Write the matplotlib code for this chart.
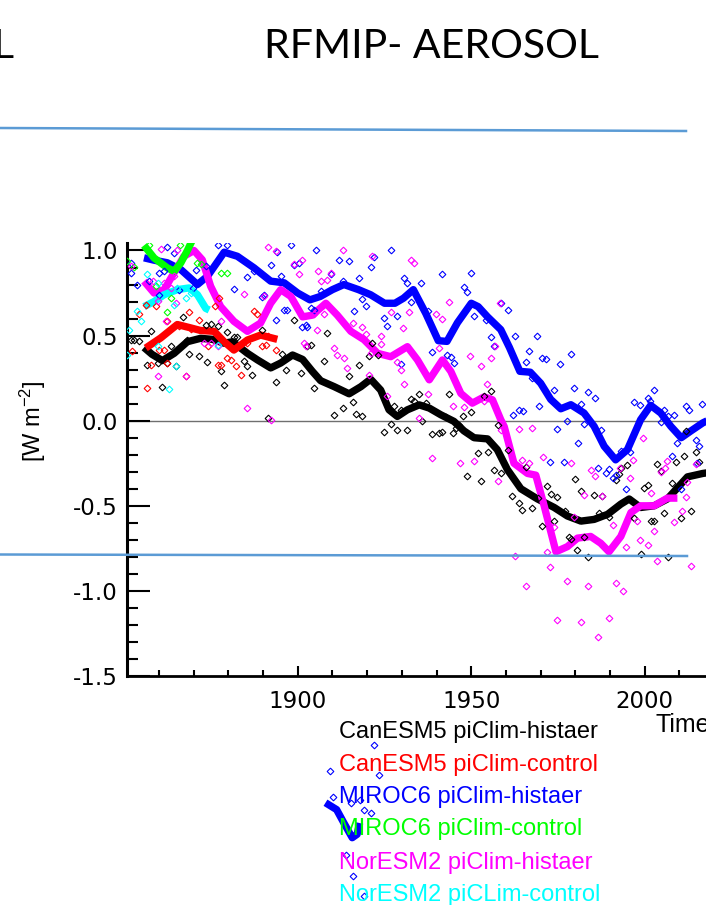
import numpy as np
import matplotlib
matplotlib.use("Agg")
import matplotlib.pyplot as plt
from matplotlib.lines import Line2D
from matplotlib.ticker import MultipleLocator

plt.rcParams["font.family"] = ["DejaVu Sans"]
plt.rcParams["mathtext.fontset"] = "custom"
plt.rcParams["mathtext.rm"] = "Liberation Sans"
plt.rcParams["mathtext.it"] = "Liberation Sans:italic"

# ---------------------------
# smoothed curves (year, W m-2)
# ---------------------------
canesm5_hist_line = [
    (1855.7, 0.43), (1858.0, 0.39), (1861.0, 0.353), (1864.4, 0.396), (1868.2, 0.464),
    (1872.0, 0.484), (1875.4, 0.478), (1878.8, 0.455), (1881.2, 0.464), (1885.5, 0.396),
    (1888.4, 0.357), (1892.2, 0.31), (1895.1, 0.339), (1898.5, 0.386), (1901.4, 0.36),
    (1904.2, 0.29), (1906.6, 0.235), (1910.5, 0.20), (1914.8, 0.158), (1918.2, 0.20),
    (1921.0, 0.244), (1923.9, 0.18), (1926.3, 0.064), (1928.7, 0.025), (1931.6, 0.064),
    (1935.0, 0.093), (1937.9, 0.074), (1941.2, 0.035), (1945.0, -0.004), (1947.9, -0.06),
    (1950.8, -0.10), (1954.7, -0.107), (1957.5, -0.17), (1960.4, -0.287), (1964.3, -0.40),
    (1969.1, -0.46), (1973.9, -0.51), (1977.7, -0.56), (1981.6, -0.59), (1985.4, -0.58),
    (1989.3, -0.55), (1993.1, -0.49), (1995.5, -0.46), (1998.8, -0.51), (2002.7, -0.50),
    (2006.5, -0.46), (2009.4, -0.395), (2012.3, -0.33), (2016.7, -0.31), (2020.0, -0.30),
]
canesm5_ctrl_line = [
    (1856.2, 0.427), (1860.5, 0.486), (1865.3, 0.565), (1869.2, 0.545), (1872.0, 0.53),
    (1875.9, 0.525), (1878.8, 0.464), (1881.6, 0.415), (1885.5, 0.474), (1889.3, 0.503),
    (1894.1, 0.478),
]
miroc6_hist_line = [
    (1855.7, 0.957), (1858.6, 0.943), (1862.4, 0.928), (1866.3, 0.888), (1871.1, 0.80),
    (1874.0, 0.849), (1878.8, 0.99), (1882.6, 0.966), (1887.4, 0.898), (1892.2, 0.82),
    (1896.1, 0.81), (1900.0, 0.75), (1903.5, 0.71), (1906.5, 0.73), (1910.0, 0.77),
    (1913.3, 0.80), (1917.5, 0.77), (1921.0, 0.74), (1925.0, 0.69), (1928.0, 0.69),
    (1930.5, 0.72), (1933.3, 0.77), (1936.9, 0.63), (1940.5, 0.47), (1943.0, 0.466),
    (1946.0, 0.575), (1950.0, 0.69), (1952.0, 0.67), (1954.7, 0.61), (1958.5, 0.535),
    (1961.0, 0.43), (1964.0, 0.29), (1967.0, 0.285), (1970.0, 0.22), (1972.9, 0.125),
    (1975.8, 0.07), (1978.7, 0.094), (1982.5, 0.045), (1985.4, -0.033), (1988.3, -0.15),
    (1991.6, -0.23), (1995.0, -0.17), (1998.8, 0.006), (2001.7, 0.09), (2004.6, 0.045),
    (2007.5, -0.033), (2010.5, -0.10), (2013.3, -0.06), (2016.7, -0.013), (2020.0, 0.02),
]
miroc6_ctrl_line = [
    (1855.7, 1.03), (1858.6, 0.956), (1862.4, 0.898), (1864.4, 0.878), (1866.3, 0.927),
    (1868.2, 1.0), (1869.6, 1.06),
]
noresm2_hist_line = [
    (1855.7, 0.82), (1858.6, 0.75), (1861.5, 0.77), (1864.4, 0.87), (1867.2, 0.966),
    (1870.1, 1.0), (1872.5, 0.945), (1874.9, 0.79), (1877.8, 0.67), (1881.6, 0.584),
    (1885.5, 0.525), (1889.3, 0.574), (1892.2, 0.69), (1895.1, 0.77), (1898.0, 0.73),
    (1901.4, 0.61), (1904.2, 0.62), (1908.1, 0.69), (1911.4, 0.62), (1915.3, 0.525),
    (1919.1, 0.476), (1923.0, 0.396), (1926.8, 0.376), (1931.6, 0.435), (1934.5, 0.357),
    (1937.9, 0.24), (1941.7, 0.357), (1944.1, 0.29), (1947.0, 0.16), (1950.3, 0.103),
    (1953.7, 0.14), (1956.1, 0.123), (1958.5, 0.006), (1959.5, -0.035), (1962.3, -0.25),
    (1966.2, -0.31), (1968.6, -0.32), (1971.0, -0.50), (1974.4, -0.77), (1977.7, -0.74),
    (1980.6, -0.69), (1984.4, -0.68), (1987.3, -0.72), (1989.7, -0.77), (1993.1, -0.68),
    (1996.0, -0.54), (1998.8, -0.50), (2002.7, -0.50), (2006.5, -0.455), (2009.4, -0.455),
]
noresm2_ctrl_line = [
    (1855.7, 0.67), (1858.6, 0.70), (1861.5, 0.74), (1865.3, 0.77), (1868.7, 0.78),
    (1871.1, 0.74), (1873.5, 0.66), (1874.5, 0.65),
]

# ---------------------------
# annual values (open diamonds)
# ---------------------------
canesm5_hist_pts = [
    (1851.9, 0.476), (1852.8, 0.476), (1854.3, 0.466), (1856.7, 0.33), (1857.6, 0.525),
    (1859.6, 0.34), (1861.0, 0.20), (1862.4, 0.34), (1863.4, 0.44), (1864.8, 0.32),
    (1866.8, 0.61), (1868.2, 0.476), (1868.7, 0.39), (1871.6, 0.378), (1873.5, 0.565),
    (1873.8, 0.343), (1874.9, 0.57), (1876.9, 0.555), (1877.8, 0.29), (1878.8, 0.21),
    (1879.7, 0.52), (1881.6, 0.49), (1882.6, 0.49), (1884.5, 0.35), (1885.5, 0.32),
    (1886.9, 0.27), (1889.8, 0.53), (1891.3, 0.016), (1893.7, 0.225), (1895.6, 0.39),
    (1896.5, 0.30), (1898.9, 0.59), (1900.9, 0.28), (1902.8, 0.44), (1903.7, 0.447),
    (1904.7, 0.19), (1907.6, 0.35), (1908.5, 0.516), (1910.5, 0.035), (1912.9, 0.075),
    (1914.8, 0.26), (1915.8, 0.108), (1916.7, 0.041), (1917.7, 0.33), (1918.6, 0.025),
    (1920.6, 0.378), (1921.5, 0.457), (1923.0, 0.388), (1924.9, -0.069), (1926.8, -0.018),
    (1927.8, 0.084), (1928.7, -0.053), (1929.7, 0.065), (1931.6, -0.053), (1932.6, 0.127),
    (1933.5, 0.114), (1935.0, 0.159), (1935.9, -0.004), (1936.9, 0.104), (1938.8, -0.076),
    (1940.7, -0.073), (1941.7, -0.069), (1942.7, 0.022), (1943.6, 0.159), (1944.6, -0.073),
    (1945.5, -0.043), (1946.5, -0.024), (1947.5, 0.025), (1948.9, -0.327), (1949.9, 0.049),
    (1951.8, -0.19), (1952.7, -0.357), (1953.7, 0.143), (1954.7, -0.186), (1955.6, 0.173),
    (1956.6, -0.292), (1957.7, -0.024), (1958.5, -0.308), (1960.6, -0.17), (1961.6, -0.445),
    (1963.8, -0.484), (1964.7, -0.524), (1965.7, -0.27), (1967.6, -0.514), (1969.1, -0.455),
    (1970.5, -0.618), (1971.8, -0.386), (1973.0, -0.43), (1973.9, -0.59), (1974.7, -0.45),
    (1977.0, -0.533), (1978.2, -0.684), (1978.7, -0.696), (1979.9, -0.343), (1980.6, -0.76),
    (1981.6, -0.416), (1982.5, -0.684), (1983.5, -0.80), (1985.4, -0.435), (1986.9, -0.54),
    (1987.8, -0.441), (1989.7, -0.567), (1991.6, -0.347), (1992.6, -0.312), (1993.1, -0.278),
    (1995.0, -0.259), (1997.0, -0.573), (1998.9, -0.782), (1999.8, -0.396), (2000.8, -0.376),
    (2001.7, -0.592), (2002.7, -0.592), (2003.6, -0.253), (2004.6, -0.298), (2005.5, -0.543),
    (2006.7, -0.80), (2007.7, -0.367), (2008.9, -0.245), (2010.4, -0.573), (2011.3, -0.206),
    (2011.8, -0.063), (2013.3, -0.533), (2014.7, -0.186), (2015.6, -0.245),
]
canesm5_ctrl_pts = [
    (1852.3, 0.41), (1854.3, 0.624), (1856.3, 0.682), (1859.1, 0.673), (1861.5, 0.418),
    (1862.4, 0.584), (1865.8, 0.555), (1867.7, 0.261), (1868.7, 0.637), (1871.6, 0.594),
    (1874.0, 0.441), (1877.8, 0.33), (1879.7, 0.369), (1880.7, 0.359), (1882.1, 0.32),
    (1883.6, 0.271), (1885.5, 0.457), (1887.4, 0.643), (1888.4, 0.624), (1889.8, 0.437),
    (1890.8, 0.447), (1893.7, 0.418), (1856.7, 0.192), (1857.6, 0.33), (1860.0, 0.418),
    (1862.4, 0.339), (1869.2, 0.539), (1877.3, 0.722), (1876.3, 0.673), (1891.3, 0.496),
    (1876.9, 0.33),
]
miroc6_hist_pts = [
    (1851.9, 0.927), (1851.9, 0.868), (1853.8, 0.80), (1857.1, 0.82), (1860.0, 0.868),
    (1861.5, 0.878), (1862.4, 1.02), (1864.4, 0.986), (1860.0, 0.74), (1865.8, 0.77),
    (1869.7, 0.78), (1870.7, 0.888), (1873.5, 0.908), (1876.9, 1.03), (1879.7, 1.03),
    (1881.6, 0.774), (1885.5, 0.845), (1887.4, 0.878), (1890.3, 0.74), (1889.8, 0.727),
    (1892.2, 0.912), (1894.1, 0.99), (1895.1, 0.849), (1896.0, 0.653), (1897.0, 0.653),
    (1898.0, 1.03), (1893.7, 0.59), (1898.9, 0.912), (1900.4, 0.927), (1902.3, 0.565),
    (1902.8, 0.55), (1905.2, 1.0), (1906.6, 0.76), (1904.7, 0.653), (1911.9, 0.943),
    (1914.8, 0.937), (1909.5, 0.859), (1912.9, 0.82), (1916.2, 0.643), (1917.7, 0.839),
    (1918.6, 0.716), (1919.6, 0.676), (1921.0, 0.904), (1922.0, 0.963), (1926.8, 1.0),
    (1924.9, 0.604), (1925.8, 0.559), (1928.7, 0.618), (1929.7, 0.335), (1930.6, 0.839),
    (1931.6, 0.81), (1935.4, 0.81), (1932.6, 0.696), (1937.4, 0.643), (1938.8, 0.402),
    (1941.7, 0.863), (1943.1, 0.388), (1944.1, 0.375), (1945.0, 0.339), (1947.9, 0.786),
    (1948.9, 0.755), (1949.9, 0.869), (1950.8, 0.618), (1954.2, 0.594), (1955.6, 0.492),
    (1956.6, 0.441), (1958.5, 0.692), (1960.7, 0.653), (1962.6, 0.50), (1968.8, 0.50),
    (1966.7, 0.412), (1970.5, 0.369), (1971.5, 0.363), (1965.7, 0.343), (1975.6, 0.335),
    (1978.7, 0.394), (1967.6, 0.251), (1973.7, 0.182), (1979.6, 0.192), (1983.7, 0.167),
    (1985.6, 0.133), (1981.6, 0.10), (1969.6, 0.084), (1963.8, 0.065), (1964.8, 0.055),
    (1961.9, 0.035), (1977.7, -0.004), (1982.5, -0.018), (1974.6, -0.049), (1987.5, -0.057),
    (1996.8, 0.108), (1998.7, 0.092), (2000.8, 0.133), (2001.6, 0.114), (2002.7, 0.182),
    (2005.6, 0.065), (2004.6, -0.010), (2006.7, 0.025), (2008.5, 0.035), (2011.8, 0.084),
    (2012.8, 0.065), (2016.5, 0.10), (1980.8, -0.131), (1972.7, -0.245), (1976.7, -0.245),
    (1986.4, -0.278), (1988.8, -0.308), (1989.7, -0.284), (1991.7, -0.318), (1990.7, -0.337),
    (1993.1, -0.18), (1995.8, -0.186), (1994.5, -0.402), (2009.4, -0.131), (2007.7, -0.21),
    (2010.4, -0.402), (2014.7, -0.116), (2015.6, -0.151), (2015.1, -0.249), (1901.3, 0.551),
    (1903.7, 0.663),
]
miroc6_ctrl_pts = [
    (1850.9, 0.937), (1852.8, 0.905), (1859.1, 0.79), (1862.4, 0.637), (1863.4, 0.72),
    (1871.1, 0.928), (1872.0, 0.918), (1877.8, 0.87), (1879.7, 0.87), (1857.1, 1.03),
    (1866.0, 1.03),
]
noresm2_hist_pts = [
    (1851.9, 0.908), (1858.2, 0.82), (1860.5, 1.01), (1859.6, 0.702), (1861.5, 0.81),
    (1861.9, 0.584), (1863.4, 0.78), (1865.3, 1.0), (1864.8, 0.692), (1864.4, 0.849),
    (1859.6, 0.261), (1867.7, 0.261), (1873.0, 0.457), (1874.9, 0.457), (1876.9, 0.437),
    (1877.8, 0.584), (1884.5, 0.747), (1885.5, 0.075), (1890.3, 0.731), (1891.3, 1.02),
    (1892.2, 0.006), (1893.7, 0.996), (1898.9, 0.922), (1900.4, 0.859), (1902.3, 0.441),
    (1904.7, 0.629), (1905.6, 0.531), (1901.3, 0.947), (1905.7, 0.878), (1906.6, 0.82),
    (1908.5, 0.829), (1909.5, 0.869), (1901.8, 0.457), (1907.6, 0.624), (1910.5, 0.427),
    (1911.4, 0.388), (1913.3, 0.369), (1914.3, 0.31), (1915.8, 0.575), (1918.6, 0.551),
    (1919.6, 0.512), (1921.0, 0.398), (1920.6, 0.271), (1923.9, 0.496), (1923.9, 0.453),
    (1925.8, 0.143), (1926.8, 0.637), (1928.7, 0.343), (1929.7, 0.30), (1930.2, 0.545),
    (1932.1, 0.637), (1930.6, 0.218), (1932.6, 0.943), (1933.5, 0.927), (1935.0, 0.016),
    (1937.4, 0.159), (1939.8, 0.624), (1940.7, 0.427), (1941.7, 0.598), (1943.6, 0.696),
    (1944.6, 0.088), (1947.9, 0.08), (1949.7, 0.382), (1952.7, 0.324), (1953.7, 0.114),
    (1954.6, 0.218), (1955.6, 0.369), (1956.7, 0.441), (1958.3, 0.692), (1921.5, 0.967),
    (1912.9, 1.0), (1938.8, -0.22), (1946.8, -0.249), (1950.8, -0.239), (1957.7, -0.357),
    (1958.5, -0.057), (1963.8, -0.049), (1967.6, -0.043), (1964.7, -0.233), (1966.7, -0.249),
    (1970.8, -0.214), (1978.7, -0.249), (1984.6, -0.292), (1985.6, -0.327), (1992.9, -0.278),
    (1995.8, -0.337), (1996.7, -0.233), (1999.6, -0.102), (2006.5, -0.239), (2004.8, -0.304),
    (2005.7, -0.278), (1990.7, -0.612), (1994.5, -0.743), (1997.7, -0.592), (1998.6, -0.70),
    (2000.8, -0.73), (2002.7, -0.65), (2008.4, -0.598), (2003.6, -0.827), (2010.8, -0.533),
    (2011.8, -0.449), (2012.3, -0.363), (2013.4, -0.853), (2014.9, -0.253), (1962.5, -0.794),
    (1971.7, -0.769), (1972.7, -0.861), (1965.7, -0.971), (1977.7, -0.939), (1983.6, -0.971),
    (1991.6, -0.951), (1993.6, -0.998), (1974.6, -1.171), (1981.5, -1.18), (1989.7, -1.161),
    (1986.6, -1.273), (1979.6, -0.567), (1973.9, -0.626), (1982.5, -0.435), (1987.8, -0.441),
    (2001.7, -0.422),
]
noresm2_ctrl_pts = [
    (1850.9, 0.388), (1851.4, 0.535), (1853.8, 0.643), (1854.8, 0.584), (1856.7, 0.859),
    (1859.6, 0.81), (1862.9, 0.186), (1864.4, 0.682), (1865.3, 0.78), (1867.7, 0.72),
    (1869.2, 0.75), (1873.0, 0.672), (1876.9, 0.447), (1859.6, 0.437), (1864.8, 0.324),
]

# stray piece of a blue curve showing below the axis in the slide
stray_blue_line = [(1908.9, -2.256), (1911.2, -2.285), (1913.2, -2.36), (1915.7, -2.45),
                   (1917.1, -2.43), (1917.6, -2.385)]
stray_blue_pts = [(1922.0, -1.904), (1909.3, -2.06), (1923.4, -2.08), (1910.3, -2.21),
                  (1918.0, -2.227), (1919.1, -2.286), (1921.0, -2.305), (1915.3, -2.246),
                  (1913.8, -2.55), (1915.8, -2.677), (1919.1, -2.795)]

# name, colour, curve, points, drawing order of the curve
series = [
    ("CanESM5 piClim-histaer", "black", canesm5_hist_line, canesm5_hist_pts, 2.0),
    ("CanESM5 piClim-control", "#ff0000", canesm5_ctrl_line, canesm5_ctrl_pts, 2.4),
    ("MIROC6 piClim-histaer", "#0000ff", miroc6_hist_line, miroc6_hist_pts, 2.1),
    ("MIROC6 piClim-control", "#00ff00", miroc6_ctrl_line, miroc6_ctrl_pts, 2.5),
    ("NorESM2 piClim-histaer", "#ff00ff", noresm2_hist_line, noresm2_hist_pts, 2.2),
    ("NorESM2 piCLim-control", "#00ffff", noresm2_ctrl_line, noresm2_ctrl_pts, 2.6),
]

W, H = 706, 905
fig = plt.figure(figsize=(W / 100, H / 100), dpi=100)
fig.patch.set_facecolor("white")

# axes: left spine at x=127px, bottom at y=676px, top cut at y=243px
ax = fig.add_axes([127 / W, 1 - 676 / H, (760 - 127) / W, (676 - 243) / H])
ax.set_xlim(1850.8, 2033.2)
ax.set_ylim(-1.5, 1.044)

ax.axhline(0.0, color="#6f6f6f", lw=1.0, zorder=1)

for name, col, line, pts, z in series:
    lx, ly = np.array(line).T
    ax.plot(lx, ly, color=col, lw=5.3, solid_capstyle="butt", solid_joinstyle="round",
            zorder=z)
for name, col, line, pts, z in series:
    px, py = np.array(pts).T
    ax.plot(px, py, ls="none", marker="D", ms=3.4, mfc="none", mec=col, mew=0.8, zorder=3)

sx, sy = np.array(stray_blue_line).T
ax.plot(sx, sy, color="#0000ff", lw=5.3, solid_joinstyle="round", clip_on=False, zorder=2)
sx, sy = np.array(stray_blue_pts).T
ax.plot(sx, sy, ls="none", marker="D", ms=3.4, mfc="none", mec="#0000ff", mew=0.8,
        clip_on=False, zorder=3)

for s in ("top", "right"):
    ax.spines[s].set_visible(False)
ax.spines["left"].set_linewidth(2.2)
ax.spines["bottom"].set_linewidth(2.0)

ax.set_yticks([-1.5, -1.0, -0.5, 0.0, 0.5, 1.0])
ax.set_yticklabels(["-1.5", "-1.0", "-0.5", "0.0", "0.5", "1.0"])
ax.yaxis.set_minor_locator(MultipleLocator(0.1))
ax.set_xticks([1900, 1950, 2000])
ax.xaxis.set_minor_locator(MultipleLocator(10))
ax.tick_params(axis="y", which="major", direction="in", length=16.5, width=1.5,
               pad=6.5, labelsize=16.5)
ax.tick_params(axis="y", which="minor", direction="in", length=8, width=1.5)
ax.tick_params(axis="x", which="major", direction="in", length=7.5, width=1.5,
               pad=10, labelsize=16.5)
ax.tick_params(axis="x", which="minor", direction="in", length=4, width=1.5)

# y label and cut-off x label
fig.text(33 / W, 1 - 421 / H, "[W m$^{-2}$]", rotation=90, ha="center", va="center",
         fontsize=17, family="Liberation Sans")
fig.text(655 / W, 1 - 732 / H, "Time", ha="left", va="baseline",
         fontsize=18, family="Liberation Sans")

# legend as coloured text lines
baselines = [738, 771, 803, 835, 869, 901]
for (name, col, line, pts, z), yb in zip(series, baselines):
    fig.text(339 / W, 1 - yb / H, name, color=col, ha="left", va="baseline",
             fontsize=17, family="Liberation Sans", zorder=5)

# slide decorations
fig.text(431.5 / W, 1 - 58 / H, "RFMIP- AEROSOL", ha="center", va="baseline",
         fontsize=29.5, family="Lato")
fig.text(13 / W, 1 - 58 / H, "L", ha="right", va="baseline", fontsize=29.5, family="Lato")
slide_blue = "#5b9bd5"
fig.add_artist(Line2D([0, 686 / W], [1 - 128 / H, 1 - 131 / H], color=slide_blue, lw=1.8,
                      transform=fig.transFigure))
fig.add_artist(Line2D([0, 687 / W], [1 - 554.5 / H, 1 - 556 / H], color=slide_blue, lw=1.8,
                      transform=fig.transFigure, zorder=6))

fig.savefig("out.png", dpi=100)
